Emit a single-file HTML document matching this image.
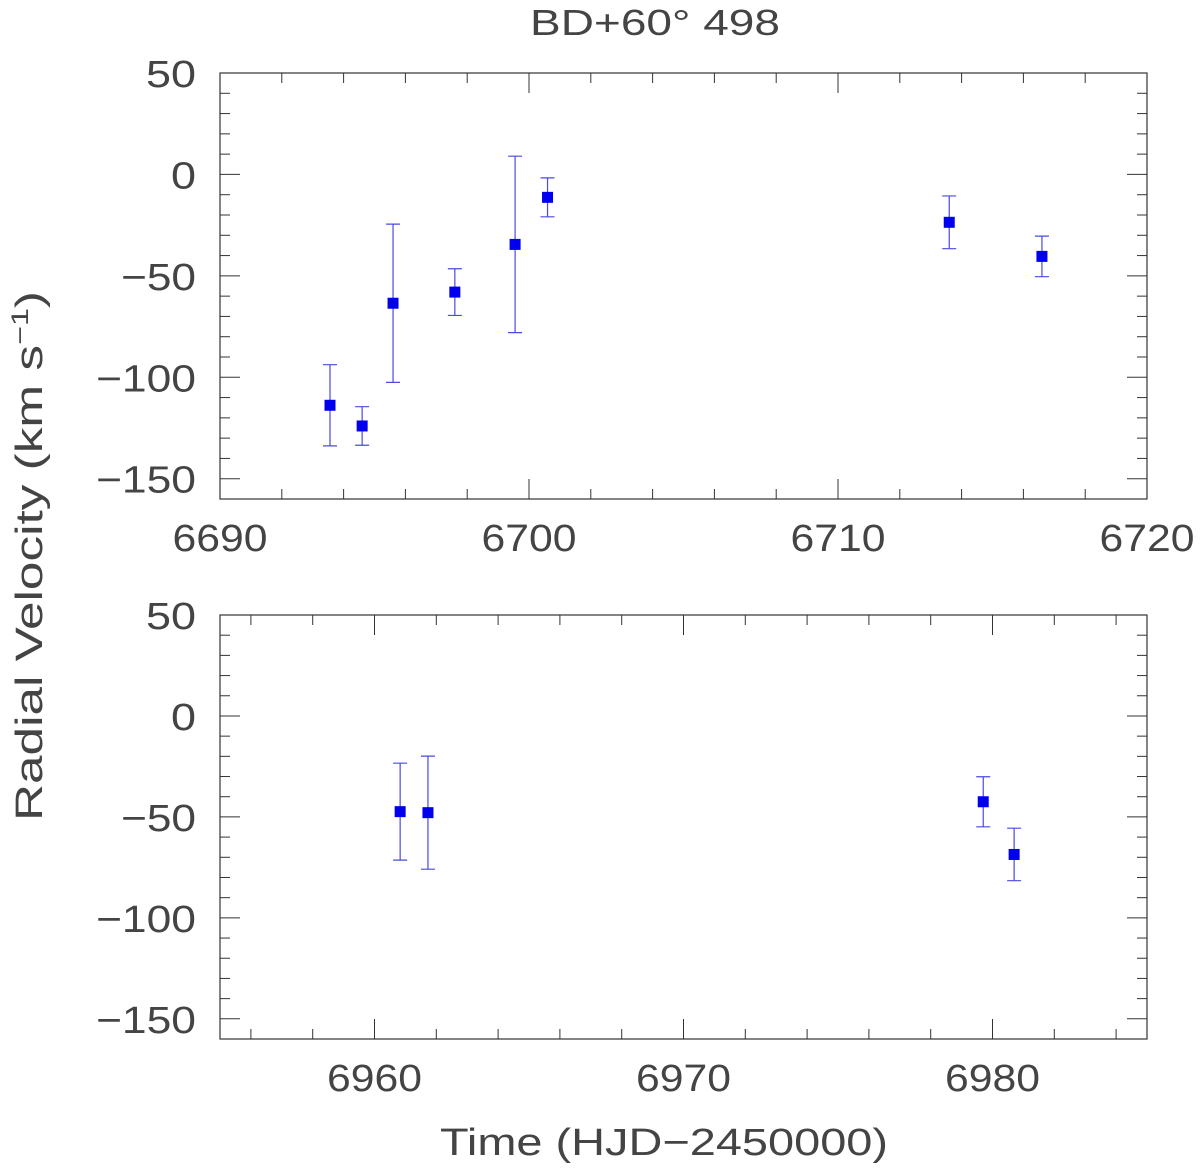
<!DOCTYPE html>
<html><head><meta charset="utf-8"><style>
body{margin:0;background:#fff;}
svg text{font-family:"Liberation Sans",sans-serif;fill:#444;}
</style></head><body>
<svg id="chart" width="1200" height="1168" viewBox="0 0 1200 1168" xmlns="http://www.w3.org/2000/svg">
<text x="655" y="35" font-size="36" text-anchor="middle" textLength="250" lengthAdjust="spacingAndGlyphs">BD+60° 498</text>
<text transform="translate(42,556) rotate(-90)" font-size="38" text-anchor="middle" textLength="530" lengthAdjust="spacingAndGlyphs">Radial Velocity (km s<tspan dy="-14" font-size="24">−1</tspan><tspan dy="14">)</tspan></text>
<text x="664" y="1155" font-size="38" text-anchor="middle" textLength="448" lengthAdjust="spacingAndGlyphs">Time (HJD−2450000)</text>
<g id="p1"></g><g id="p2"></g>
</svg>
<script>
const topT=[6693.56,6694.6,6695.6,6697.6,6699.55,6700.6,6713.6,6716.6];
const topV=[-113.8,-124,-63.5,-58,-34.5,-11.3,-23.6,-40.4];
const topE=[20,9.5,39,11.5,43.5,9.6,13,10];
const botT=[6960.83,6961.73,6979.7,6980.7];
const botV=[-47.4,-47.9,-42.5,-68.6];
const botE=[24,28,12.4,13];
const yTicks=[50,0,-50,-100,-150];
const topXTicks=[6690,6700,6710,6720];
const botXTicks=[6960,6970,6980];
const NS="http://www.w3.org/2000/svg";
function mk(g,tag,a){const e=document.createElementNS(NS,tag);for(const k in a)e.setAttribute(k,a[k]);g.appendChild(e);return e;}
function panel(gid,name,top,bottom,x0,x1,ts,vs,es,xt){
  const g=document.getElementById(gid);
  
  
  const L=220,R=1147,yMin=-160,yMax=50;
  const X=v=>L+(v-x0)/(x1-x0)*(R-L);
  const Y=v=>top+(yMax-v)/(yMax-yMin)*(bottom-top);
  const box=mk(g,'rect',{x:L,y:top,width:R-L,height:bottom-top,fill:'none',stroke:'#333','stroke-width':1.2});
  
  
  for(let v=-160;v<=50;v+=10){const maj=v%50===0,len=maj?20:10,y=Y(v);
    mk(g,'line',{x1:L,x2:L+len,y1:y,y2:y,stroke:'#333'});mk(g,'line',{x1:R,x2:R-len,y1:y,y2:y,stroke:'#333'});}
  for(let v=Math.ceil(x0/2)*2;v<=x1;v+=2){const maj=v%10===0,len=maj?20:10,x=X(v);
    mk(g,'line',{x1:x,x2:x,y1:bottom,y2:bottom-len,stroke:'#333'});mk(g,'line',{x1:x,x2:x,y1:top,y2:top+len,stroke:'#333'});}
  yTicks.forEach(v=>{const s=String(v).replace('-','−');const t=mk(g,'text',{x:L-24,y:Y(v)+14,'font-size':38,'text-anchor':'end',textLength:s.length*25,lengthAdjust:'spacingAndGlyphs'});t.textContent=s;
    
    });
  xt.forEach(v=>{const t=mk(g,'text',{x:X(v),y:bottom+52,'font-size':38,'text-anchor':'middle',textLength:95,lengthAdjust:'spacingAndGlyphs'});t.textContent=v;
    
    });
  ts.forEach((t,i)=>{const x=X(t),y=Y(vs[i]),a=Y(vs[i]+es[i]),b=Y(vs[i]-es[i]);
    const e=mk(g,'path',{d:`M${x},${a}V${b}M${x-7},${a}H${x+7}M${x-7},${b}H${x+7}`,stroke:'#4a4ae0','stroke-width':1.2,fill:'none'});
    
    
    const p=mk(g,'rect',{x:x-5.5,y:y-5.5,width:11,height:11,fill:'#0000ee'});
    
    });
}
panel('p1','top-panel',73,499,6690,6720,topT,topV,topE,topXTicks);
panel('p2','bottom-panel',615,1039,6955,6985,botT,botV,botE,botXTicks);
</script>
</body></html>
